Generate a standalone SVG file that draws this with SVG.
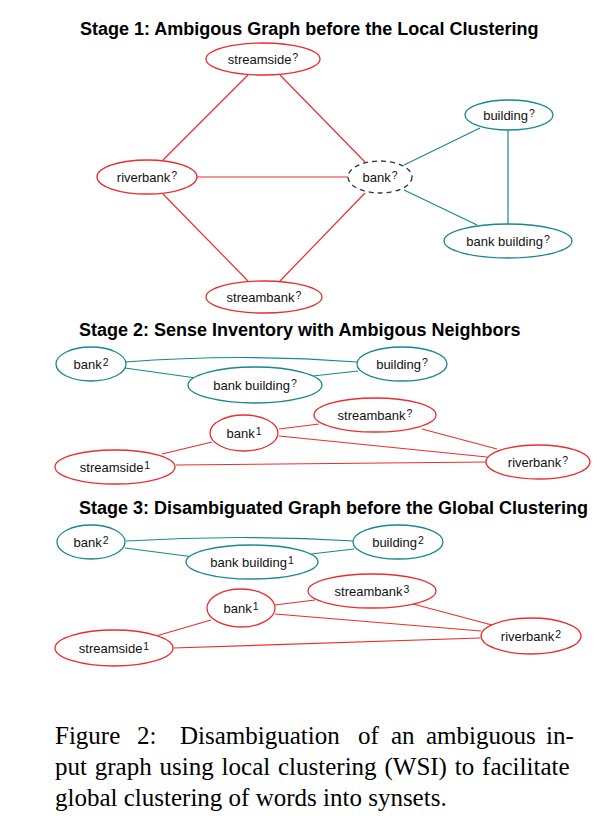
<svg xmlns="http://www.w3.org/2000/svg" width="600" height="830" viewBox="0 0 600 830">
<style>
.bg{fill:#fff}
.title{font-family:"Liberation Sans",Arial,sans-serif;font-weight:bold;font-size:18px;fill:#000}
.lbl{font-family:"Liberation Sans",Arial,sans-serif;font-size:13px;fill:#111;text-anchor:middle}
.sup{font-size:10.5px}
.r{fill:#fff;stroke:#ec2d2d;stroke-width:1.3}
.t{fill:#fff;stroke:#17898e;stroke-width:1.3}
.d{fill:#fff;stroke:#333;stroke-width:1.3;stroke-dasharray:5 4}
.er{fill:none;stroke:#ec2d2d;stroke-width:1.2}
.et{fill:none;stroke:#17898e;stroke-width:1.2}
.cap{font-family:"Liberation Serif","Times New Roman",serif;font-size:25px;fill:#000}
</style>
<rect class="bg" x="0" y="0" width="600" height="830"/>

<text class="title" x="80" y="35">Stage 1: Ambigous Graph before the Local Clustering</text>
<text class="title" x="79" y="336">Stage 2: Sense Inventory with Ambigous Neighbors</text>
<text class="title" x="79" y="514">Stage 3: Disambiguated Graph before the Global Clustering</text>

<g id="connectors">
  <!-- stage 1 -->
  <line class="er" x1="248" y1="75" x2="163" y2="160"/>
  <line class="er" x1="280" y1="75" x2="365" y2="162"/>
  <line class="er" x1="196" y1="177" x2="348" y2="177"/>
  <line class="er" x1="163" y1="194" x2="248" y2="281"/>
  <line class="er" x1="365" y1="193" x2="280" y2="281"/>
  <line class="et" x1="404" y1="165" x2="480" y2="128"/>
  <line class="et" x1="404" y1="190" x2="477" y2="225"/>
  <line class="et" x1="508" y1="129" x2="508" y2="224"/>
  <!-- stage 2 -->
  <path class="et" d="M125,362 Q241,353 357,362"/>
  <line class="et" x1="125" y1="368" x2="196" y2="378"/>
  <line class="et" x1="313" y1="376" x2="358" y2="371"/>
  <line class="er" x1="279" y1="429" x2="319" y2="424"/>
  <line class="er" x1="279" y1="436" x2="487" y2="457"/>
  <line class="er" x1="162" y1="454" x2="212" y2="442"/>
  <line class="er" x1="176" y1="465" x2="487" y2="462"/>
  <line class="er" x1="422" y1="429" x2="497" y2="449"/>
  <!-- stage 3 -->
  <path class="et" d="M126,541 Q240,534 354,541"/>
  <line class="et" x1="125" y1="548" x2="194" y2="557"/>
  <line class="et" x1="311" y1="554" x2="354" y2="549"/>
  <line class="er" x1="275" y1="605" x2="315" y2="600"/>
  <line class="er" x1="275" y1="614" x2="481" y2="631"/>
  <line class="er" x1="156" y1="636" x2="211" y2="620"/>
  <line class="er" x1="173" y1="648" x2="480" y2="638"/>
  <line class="er" x1="413" y1="604" x2="492" y2="625"/>
</g>

<!-- Stage 1 nodes -->
<g id="s1-streamside"><ellipse class="r" cx="263" cy="59" rx="57" ry="16"/><text class="lbl" x="263" y="63.5">streamside<tspan class="sup" dx="1" dy="-3">?</tspan></text></g>
<g id="s1-riverbank"><ellipse class="r" cx="147" cy="177" rx="50" ry="17"/><text class="lbl" x="147" y="181.5">riverbank<tspan class="sup" dx="1" dy="-3">?</tspan></text></g>
<g id="s1-bank"><ellipse class="d" cx="380" cy="177" rx="32" ry="16"/><text class="lbl" x="380" y="181.5">bank<tspan class="sup" dx="1" dy="-3">?</tspan></text></g>
<g id="s1-streambank"><ellipse class="r" cx="264" cy="297" rx="58" ry="16"/><text class="lbl" x="264" y="301.5">streambank<tspan class="sup" dx="1" dy="-3">?</tspan></text></g>
<g id="s1-building"><ellipse class="t" cx="509" cy="115" rx="44" ry="15"/><text class="lbl" x="509" y="119.5">building<tspan class="sup" dx="1" dy="-3">?</tspan></text></g>
<g id="s1-bankbuilding"><ellipse class="t" cx="508" cy="241" rx="64" ry="17"/><text class="lbl" x="508" y="245.5">bank building<tspan class="sup" dx="1" dy="-3">?</tspan></text></g>

<!-- Stage 2 nodes -->
<g id="s2-bank2"><ellipse class="t" cx="91" cy="364" rx="35" ry="17"/><text class="lbl" x="91" y="368.5">bank<tspan class="sup" dx="1" dy="-3">2</tspan></text></g>
<g id="s2-building"><ellipse class="t" cx="402" cy="364" rx="45" ry="17"/><text class="lbl" x="402" y="368.5">building<tspan class="sup" dx="1" dy="-3">?</tspan></text></g>
<g id="s2-bankbuilding"><ellipse class="t" cx="255" cy="385" rx="67" ry="18"/><text class="lbl" x="255" y="389.5">bank building<tspan class="sup" dx="1" dy="-3">?</tspan></text></g>
<g id="s2-streambank"><ellipse class="r" cx="375" cy="415" rx="61" ry="17"/><text class="lbl" x="375" y="419.5">streambank<tspan class="sup" dx="1" dy="-3">?</tspan></text></g>
<g id="s2-bank1"><ellipse class="r" cx="244" cy="433" rx="34" ry="18"/><text class="lbl" x="244" y="437.5">bank<tspan class="sup" dx="1" dy="-3">1</tspan></text></g>
<g id="s2-streamside1"><ellipse class="r" cx="115" cy="467" rx="60" ry="17"/><text class="lbl" x="115" y="471.5">streamside<tspan class="sup" dx="1" dy="-3">1</tspan></text></g>
<g id="s2-riverbank"><ellipse class="r" cx="538" cy="462" rx="52" ry="17"/><text class="lbl" x="538" y="466.5">riverbank<tspan class="sup" dx="1" dy="-3">?</tspan></text></g>

<!-- Stage 3 nodes -->
<g id="s3-bank2"><ellipse class="t" cx="91" cy="542" rx="34" ry="17"/><text class="lbl" x="91" y="546.5">bank<tspan class="sup" dx="1" dy="-3">2</tspan></text></g>
<g id="s3-building2"><ellipse class="t" cx="398" cy="542" rx="45" ry="17"/><text class="lbl" x="398" y="546.5">building<tspan class="sup" dx="1" dy="-3">2</tspan></text></g>
<g id="s3-bankbuilding1"><ellipse class="t" cx="252" cy="562" rx="66" ry="17"/><text class="lbl" x="252" y="566.5">bank building<tspan class="sup" dx="1" dy="-3">1</tspan></text></g>
<g id="s3-streambank3"><ellipse class="r" cx="372" cy="591" rx="64" ry="17"/><text class="lbl" x="372" y="595.5">streambank<tspan class="sup" dx="1" dy="-3">3</tspan></text></g>
<g id="s3-bank1"><ellipse class="r" cx="241" cy="608" rx="34" ry="19"/><text class="lbl" x="241" y="612.5">bank<tspan class="sup" dx="1" dy="-3">1</tspan></text></g>
<g id="s3-streamside1"><ellipse class="r" cx="114" cy="648" rx="59" ry="18"/><text class="lbl" x="114" y="652.5">streamside<tspan class="sup" dx="1" dy="-3">1</tspan></text></g>
<g id="s3-riverbank2"><ellipse class="r" cx="531" cy="636" rx="50" ry="18"/><text class="lbl" x="531" y="640.5">riverbank<tspan class="sup" dx="1" dy="-3">2</tspan></text></g>

<!-- Caption -->
<text class="cap" y="744"><tspan x="55">Figure</tspan><tspan x="137">2:</tspan><tspan x="180">Disambiguation</tspan><tspan x="358">of</tspan><tspan x="391">an</tspan><tspan x="426">ambiguous</tspan><tspan x="546">in-</tspan></text>
<text class="cap" x="55" y="775" word-spacing="1.6">put graph using local clustering (WSI) to facilitate</text>
<text class="cap" x="55" y="806">global clustering of words into synsets.</text>
</svg>
